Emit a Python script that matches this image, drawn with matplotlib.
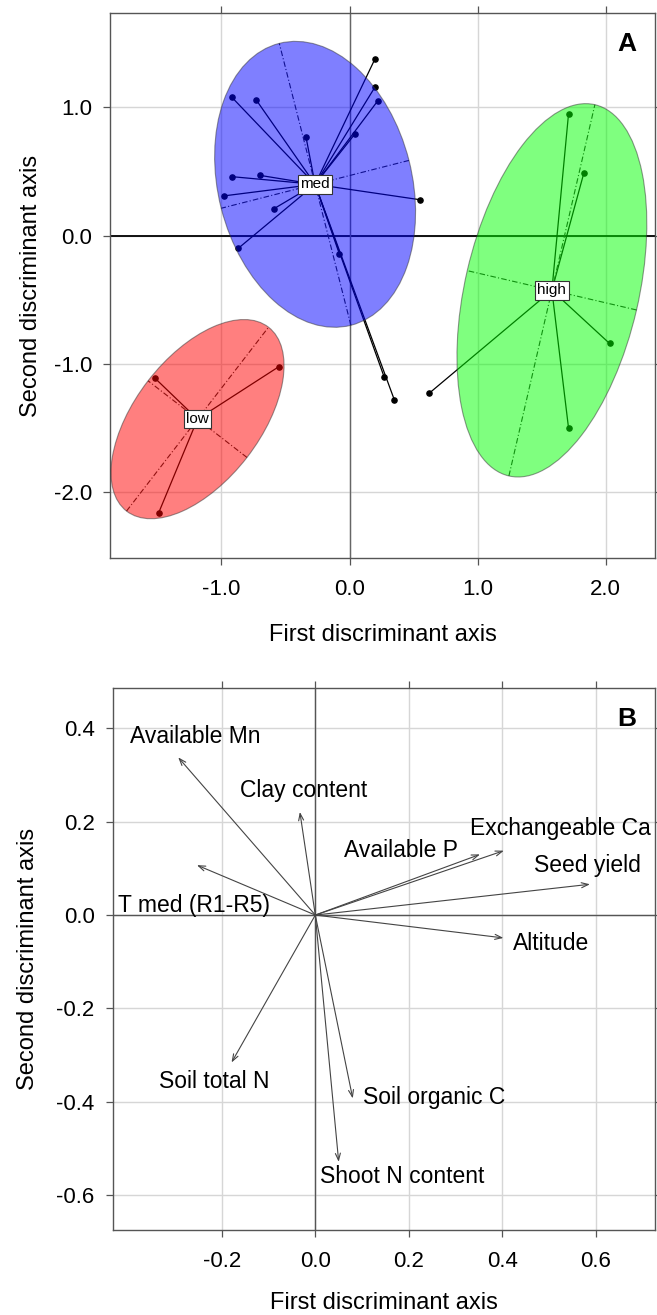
import numpy as np
import matplotlib
matplotlib.use("Agg")
import matplotlib.pyplot as plt
from matplotlib.patches import Ellipse

plt.rcParams['font.family'] = ['Liberation Sans', 'DejaVu Sans']

# ---------------- Data: panel A (discriminant scores) ----------------
groups = ["low", "med", "high"]
low_x = [-1.52, -0.55, -1.49]
low_y = [-1.11, -1.02, -2.16]
med_x = [0.20, 0.20, 0.22, 0.04, -0.34, -0.92, -0.73, -0.92, -0.70, -0.98,
         -0.59, -0.87, 0.55, -0.08, 0.27, 0.35]
med_y = [1.38, 1.16, 1.05, 0.79, 0.77, 1.08, 1.06, 0.46, 0.47, 0.31,
         0.21, -0.10, 0.28, -0.14, -1.10, -1.28]
high_x = [1.71, 1.83, 2.03, 1.71, 0.62]
high_y = [0.95, 0.49, -0.84, -1.50, -1.23]
group_colors = ["#FF0000", "#0000FF", "#00FF00"]

a_xticks = [-1.0, 0.0, 1.0, 2.0]
a_yticks = [-2.0, -1.0, 0.0, 1.0]

# ---------------- Data: panel B (variable loadings) ----------------
variables = ["Available Mn", "Clay content", "T med (R1-R5)", "Available P",
             "Exchangeable Ca", "Seed yield", "Altitude", "Soil total N",
             "Soil organic C", "Shoot N content"]
load_x = [-0.293, -0.033, -0.253, 0.352, 0.403, 0.587, 0.402, -0.179, 0.080, 0.050]
load_y = [0.338, 0.221, 0.107, 0.130, 0.138, 0.066, -0.049, -0.316, -0.393, -0.529]
b_xticks = [-0.2, 0.0, 0.2, 0.4, 0.6]
b_yticks = [-0.6, -0.4, -0.2, 0.0, 0.2, 0.4]

# label anchor positions (left edge, vertical centre) for panel B
label_pos_x = [-0.396, -0.162, -0.421, 0.062, 0.331, 0.468, 0.422, -0.334, 0.101, 0.009]
label_pos_y = [0.382, 0.266, 0.021, 0.139, 0.186, 0.107, -0.061, -0.356, -0.391, -0.561]

FS = 16
FS_LAB = 17
FS_VAR = 16.5
FRAME = "#555555"
GRID = "#d6d6d6"

W, H = 657, 1315
fig = plt.figure(figsize=(W / 100, H / 100), dpi=100)


def px_axes(l, t, r, b):
    return fig.add_axes([l / W, 1 - b / H, (r - l) / W, (b - t) / H])


def style(ax, xt, yt, fmt):
    ax.set_xticks(xt)
    ax.set_yticks(yt)
    ax.set_xticklabels([fmt.format(v) for v in xt], fontsize=FS)
    ax.set_yticklabels([fmt.format(v) for v in yt], fontsize=FS)
    ax.tick_params(direction="out", length=5, width=0.9, color=FRAME,
                   top=True, right=True, labeltop=False, labelright=False)
    ax.tick_params(axis="x", pad=10)
    ax.tick_params(axis="y", pad=8)
    for s in ax.spines.values():
        s.set_color(FRAME)
        s.set_linewidth(1.0)
    ax.grid(True, color=GRID, lw=1.0, zorder=0)
    ax.set_axisbelow(True)


# ================= Panel A =================
axA = px_axes(110, 13.3, 655, 557.7)
axA.set_xlim(-1.87, 2.385)
axA.set_ylim(-2.51, 1.733)
style(axA, a_xticks, a_yticks, "{:.1f}")
axA.axhline(0, color="black", lw=1.3, zorder=1)
axA.axvline(0, color="#666666", lw=1.0, zorder=1)

cell = 1.5
for gx, gy, name, col in zip([low_x, med_x, high_x], [low_y, med_y, high_y],
                             groups, group_colors):
    gx = np.asarray(gx)
    gy = np.asarray(gy)
    cx, cy = gx.mean(), gy.mean()
    # star lines
    for px, py in zip(gx, gy):
        axA.plot([cx, px], [cy, py], color="black", lw=0.9, zorder=2)
    axA.scatter(gx, gy, s=14, color="black", zorder=3)
    # ellipse from covariance
    cov = np.cov(np.vstack([gx, gy]), bias=True)
    vals, vecs = np.linalg.eigh(cov)
    order = np.argsort(vals)[::-1]
    vals = vals[order]
    vecs = vecs[:, order]
    for k in range(2):
        v = vecs[:, k] * cell * np.sqrt(vals[k])
        axA.plot([cx - v[0], cx + v[0]], [cy - v[1], cy + v[1]],
                 color="#222222", lw=0.8, ls=(0, (5, 2, 1, 2)), zorder=3)
    ang = np.degrees(np.arctan2(vecs[1, 0], vecs[0, 0]))
    e = Ellipse((cx, cy), 2 * cell * np.sqrt(vals[0]), 2 * cell * np.sqrt(vals[1]),
                angle=ang, facecolor=col, alpha=0.5, edgecolor="#333333",
                lw=0.8, zorder=4)
    axA.add_patch(e)
    axA.text(cx, cy, name, fontsize=11, ha="center", va="center", zorder=6,
             bbox=dict(boxstyle="square,pad=0.15", fc="white", ec="#333333", lw=0.8))

axA.text(0.965, 0.965, "A", transform=axA.transAxes, fontsize=19,
         fontweight="bold", ha="right", va="top")
fig.text(382.5 / W, 1 - 635 / H, "First discriminant axis", fontsize=FS_LAB,
         ha="center", va="center")
fig.text(31 / W, 1 - 285.5 / H, "Second discriminant axis", fontsize=FS_LAB,
         ha="center", va="center", rotation=90)

# ================= Panel B =================
axB = px_axes(112.7, 688.3, 655, 1230)
axB.set_xlim(-0.433, 0.726)
axB.set_ylim(-0.675, 0.486)
style(axB, b_xticks, b_yticks, "{:.1f}")
axB.axhline(0, color="#555555", lw=1.0, zorder=1)
axB.axvline(0, color="#555555", lw=1.0, zorder=1)

for lx, ly in zip(load_x, load_y):
    axB.annotate("", xy=(lx, ly), xytext=(0, 0),
                 arrowprops=dict(arrowstyle="->,head_length=0.5,head_width=0.18",
                                 color="#444444", lw=0.8, shrinkA=0, shrinkB=0),
                 zorder=3)
for name, tx, ty in zip(variables, label_pos_x, label_pos_y):
    axB.text(tx, ty, name, fontsize=FS_VAR, ha="left", va="center", zorder=4)

axB.text(0.965, 0.965, "B", transform=axB.transAxes, fontsize=19,
         fontweight="bold", ha="right", va="top")
fig.text(384 / W, 1 - 1303 / H, "First discriminant axis", fontsize=FS_LAB,
         ha="center", va="center")
fig.text(28 / W, 1 - 959 / H, "Second discriminant axis", fontsize=FS_LAB,
         ha="center", va="center", rotation=90)

fig.savefig("out.png", dpi=100)
